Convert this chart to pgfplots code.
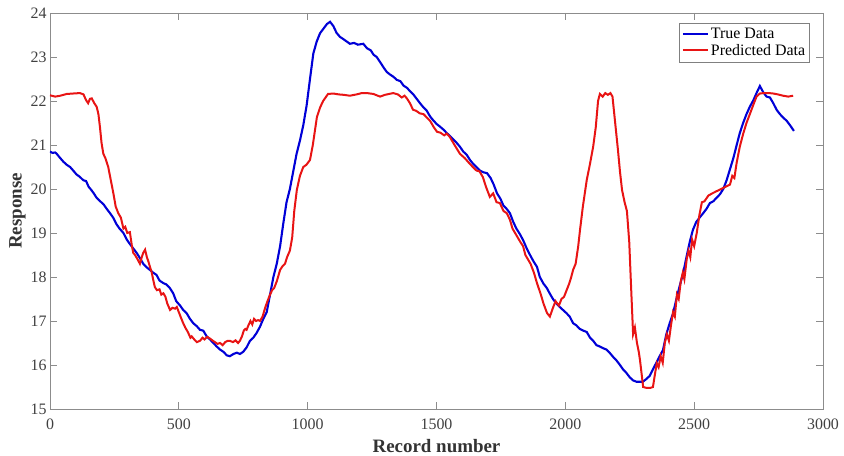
\documentclass[border=0pt]{standalone}
\usepackage{pgfplots}
\pgfplotsset{compat=1.18}
\usepackage{fontspec}
\setmainfont{Liberation Serif}
\definecolor{tblue}{RGB}{0,0,215}
\definecolor{tred}{RGB}{232,20,20}
\begin{document}
\begin{tikzpicture}
\begin{axis}[
  scale only axis, width=773bp, height=396bp,
  xmin=0, xmax=3000, ymin=15, ymax=24,
  xtick={0,500,1000,1500,2000,2500,3000}, ytick={15,16,17,18,19,20,21,22,23,24},
  xticklabels={\textrm{0},\textrm{500},\textrm{1000},\textrm{1500},\textrm{2000},\textrm{2500},\textrm{3000}},
  yticklabels={\textrm{15},\textrm{16},\textrm{17},\textrm{18},\textrm{19},\textrm{20},\textrm{21},\textrm{22},\textrm{23},\textrm{24}},
  tick align=inside, major tick length=7bp,
  axis line style={black!45, line width=0.7bp},
  every tick/.style={black!45, line width=0.7bp},
  tick label style={font=\fontsize{16}{18}\selectfont, text=black!75},
  xlabel={\textbf{Record number}}, ylabel={\textbf{Response}},
  label style={font=\fontsize{19}{21}\selectfont, text=black!80},
  xlabel style={yshift=-3bp},
  ylabel style={yshift=-2bp},
  xticklabel style={yshift=-6bp},
  legend cell align=left,
  legend style={at={(0.983,0.976)}, anchor=north east, draw=black!50,
    font=\fontsize{16}{18}\selectfont, inner xsep=2.5bp, inner ysep=3.5bp, row sep=0bp},
  legend image code/.code={\draw[#1, line width=2.2bp] (0bp,0bp) -- (25bp,0bp);},
]
\addplot[tblue, line width=2.1bp] coordinates {
(0,20.85)(10,20.82)(20,20.83)(26,20.80)(40,20.70)(52,20.62)(65,20.55)(78,20.50)(90,20.42)(103,20.33)
(115,20.28)(129,20.20)(140,20.18)(150,20.05)(160,19.98)(170,19.90)(181,19.80)(195,19.72)(208,19.65)(220,19.55)
(233,19.45)(245,19.35)(258,19.20)(270,19.10)(285,19.00)(298,18.85)(310,18.75)(323,18.65)(336,18.55)(350,18.42)
(362,18.30)(375,18.22)(388,18.16)(400,18.10)(413,18.05)(425,17.92)(440,17.86)(452,17.83)(465,17.75)(478,17.63)
(490,17.45)(505,17.35)(517,17.25)(530,17.18)(543,17.05)(556,16.95)(570,16.88)(582,16.80)(595,16.78)(608,16.65)
(621,16.58)(634,16.50)(647,16.42)(660,16.35)(673,16.30)(686,16.22)(698,16.20)(712,16.25)(725,16.28)(737,16.25)
(750,16.30)(763,16.40)(776,16.55)(789,16.62)(802,16.73)(815,16.87)(828,17.05)(841,17.20)(854,17.60)(867,18.00)
(880,18.30)(893,18.70)(905,19.20)(918,19.70)(931,20.00)(944,20.40)(957,20.80)(970,21.10)(983,21.45)(996,21.90)
(1009,22.50)(1022,23.08)(1035,23.35)(1048,23.54)(1062,23.65)(1075,23.75)(1087,23.80)(1100,23.70)(1112,23.55)(1125,23.46)
(1140,23.40)(1152,23.35)(1164,23.30)(1180,23.32)(1195,23.28)(1216,23.30)(1230,23.20)(1245,23.15)(1256,23.05)(1268,23.00)
(1285,22.85)(1296,22.75)(1307,22.66)(1320,22.60)(1333,22.55)(1346,22.48)(1360,22.45)(1372,22.35)(1385,22.30)(1398,22.22)
(1410,22.15)(1423,22.05)(1436,21.95)(1450,21.85)(1462,21.78)(1475,21.65)(1486,21.57)(1500,21.48)(1513,21.42)(1527,21.35)
(1540,21.27)(1553,21.20)(1566,21.12)(1578,21.05)(1591,20.96)(1604,20.85)(1617,20.78)(1630,20.66)(1641,20.58)(1655,20.50)
(1668,20.42)(1682,20.38)(1696,20.36)(1710,20.25)(1722,20.10)(1735,19.90)(1748,19.78)(1760,19.62)(1772,19.55)(1785,19.45)
(1798,19.25)(1810,19.10)(1823,18.98)(1836,18.84)(1850,18.65)(1863,18.50)(1877,18.35)(1890,18.23)(1901,18.00)(1915,17.85)
(1928,17.75)(1940,17.62)(1952,17.50)(1965,17.40)(1978,17.32)(1991,17.25)(2004,17.18)(2017,17.10)(2030,16.95)(2043,16.90)
(2056,16.82)(2070,16.78)(2083,16.75)(2096,16.62)(2108,16.55)(2121,16.45)(2134,16.42)(2147,16.38)(2160,16.35)(2173,16.27)
(2186,16.18)(2199,16.10)(2212,16.00)(2224,15.90)(2237,15.82)(2250,15.72)(2263,15.65)(2276,15.62)(2289,15.62)(2301,15.62)
(2314,15.68)(2327,15.75)(2340,15.90)(2353,16.05)(2366,16.20)(2379,16.34)(2392,16.70)(2405,16.95)(2418,17.17)(2431,17.50)
(2444,17.80)(2457,18.08)(2470,18.45)(2483,18.80)(2495,19.07)(2508,19.25)(2521,19.35)(2535,19.45)(2548,19.55)(2561,19.68)
(2574,19.72)(2587,19.80)(2600,19.88)(2613,20.00)(2626,20.20)(2639,20.45)(2652,20.70)(2665,21.00)(2677,21.27)(2690,21.50)
(2703,21.70)(2716,21.87)(2730,22.02)(2742,22.18)(2755,22.34)(2768,22.20)(2781,22.10)(2794,22.08)(2807,21.95)(2820,21.80)
(2833,21.70)(2846,21.62)(2859,21.55)(2872,21.45)(2887,21.32)
};
\addlegendentry{True Data}
\addplot[tred, line width=2.0bp] coordinates {
(0,22.13)(20,22.10)(40,22.12)(65,22.16)(90,22.17)(116,22.18)(130,22.15)(140,22.02)(148,21.95)(155,22.05)
(162,22.06)(172,21.95)(181,21.87)(188,21.70)(194,21.40)(200,21.05)(207,20.80)(215,20.70)(226,20.50)(236,20.20)
(246,19.90)(255,19.60)(265,19.45)(275,19.35)(285,19.10)(292,19.14)(300,19.00)(310,19.02)(318,18.70)(323,18.55)
(330,18.50)(340,18.40)(349,18.30)(356,18.45)(362,18.55)(369,18.62)(376,18.45)(382,18.35)(388,18.23)(395,18.10)
(400,17.95)(407,17.77)(415,17.70)(425,17.72)(432,17.60)(440,17.63)(448,17.55)(455,17.40)(466,17.25)(475,17.30)
(485,17.28)(492,17.32)(500,17.20)(510,17.05)(517,16.95)(525,16.85)(535,16.75)(545,16.62)(550,16.65)(560,16.58)
(570,16.52)(582,16.55)(592,16.62)(600,16.58)(610,16.64)(621,16.60)(630,16.56)(640,16.52)(650,16.48)(660,16.50)
(670,16.45)(680,16.52)(690,16.55)(698,16.55)(710,16.52)(720,16.56)(730,16.50)(737,16.55)(745,16.65)(752,16.78)
(758,16.82)(763,16.80)(770,16.90)(778,17.00)(785,16.92)(792,17.05)(800,17.00)(808,17.02)(815,17.00)(825,17.10)
(835,17.30)(844,17.45)(854,17.60)(862,17.70)(870,17.75)(880,17.90)(893,18.16)(903,18.25)(912,18.30)(920,18.45)
(931,18.60)(940,18.90)(948,19.50)(958,19.98)(970,20.30)(983,20.50)(995,20.55)(1009,20.66)(1020,21.00)(1030,21.40)
(1036,21.64)(1048,21.85)(1060,22.00)(1079,22.16)(1100,22.17)(1120,22.15)(1140,22.14)(1164,22.12)(1190,22.15)(1210,22.18)
(1230,22.18)(1255,22.16)(1281,22.10)(1300,22.14)(1332,22.18)(1350,22.15)(1365,22.08)(1376,22.12)(1385,22.06)(1397,21.95)
(1409,21.80)(1420,21.78)(1435,21.72)(1450,21.70)(1463,21.62)(1475,21.55)(1490,21.40)(1502,21.30)(1515,21.28)(1530,21.22)
(1540,21.26)(1552,21.18)(1570,21.00)(1591,20.80)(1610,20.70)(1625,20.60)(1641,20.50)(1655,20.42)(1667,20.40)(1680,20.27)
(1692,20.05)(1707,19.82)(1720,19.90)(1733,19.70)(1746,19.68)(1760,19.50)(1773,19.45)(1785,19.30)(1795,19.10)(1810,18.95)
(1825,18.80)(1836,18.70)(1845,18.50)(1855,18.40)(1865,18.30)(1878,18.10)(1890,17.86)(1905,17.60)(1915,17.40)(1929,17.18)
(1940,17.10)(1952,17.30)(1962,17.45)(1975,17.35)(1985,17.50)(1995,17.55)(2005,17.70)(2015,17.85)(2023,18.00)(2030,18.16)
(2040,18.30)(2050,18.70)(2057,19.07)(2068,19.60)(2083,20.20)(2095,20.55)(2108,20.96)(2118,21.40)(2127,22.00)(2134,22.16)
(2145,22.10)(2155,22.18)(2165,22.14)(2175,22.18)(2183,22.10)(2190,21.70)(2197,21.30)(2204,20.90)(2212,20.40)(2220,19.98)
(2230,19.70)(2239,19.50)(2248,18.80)(2255,17.80)(2263,16.70)(2270,16.85)(2278,16.50)(2285,16.30)(2290,16.10)(2296,15.80)
(2302,15.50)(2315,15.48)(2330,15.48)(2340,15.50)(2348,15.80)(2355,16.04)(2362,15.95)(2370,16.20)(2378,16.05)(2386,16.50)
(2394,16.70)(2402,16.55)(2410,16.90)(2418,17.20)(2425,17.10)(2433,17.60)(2440,17.50)(2448,17.90)(2456,18.10)(2462,17.95)
(2471,18.40)(2478,18.60)(2485,18.45)(2492,18.85)(2500,18.70)(2510,19.00)(2520,19.40)(2530,19.70)(2540,19.72)(2555,19.85)
(2570,19.90)(2587,19.95)(2605,20.00)(2622,20.05)(2639,20.10)(2648,20.30)(2656,20.25)(2665,20.60)(2677,20.96)(2690,21.25)
(2703,21.50)(2716,21.70)(2730,21.92)(2742,22.10)(2755,22.17)(2770,22.18)(2790,22.18)(2807,22.17)(2825,22.15)(2845,22.12)
(2865,22.10)(2884,22.12)
};
\addlegendentry{Predicted Data}
\end{axis}
\pgfresetboundingbox
\useasboundingbox ([shift={(-50bp,-47bp)}]current axis.south west) rectangle ([shift={(21bp,13bp)}]current axis.north east);
\end{tikzpicture}
\end{document}
